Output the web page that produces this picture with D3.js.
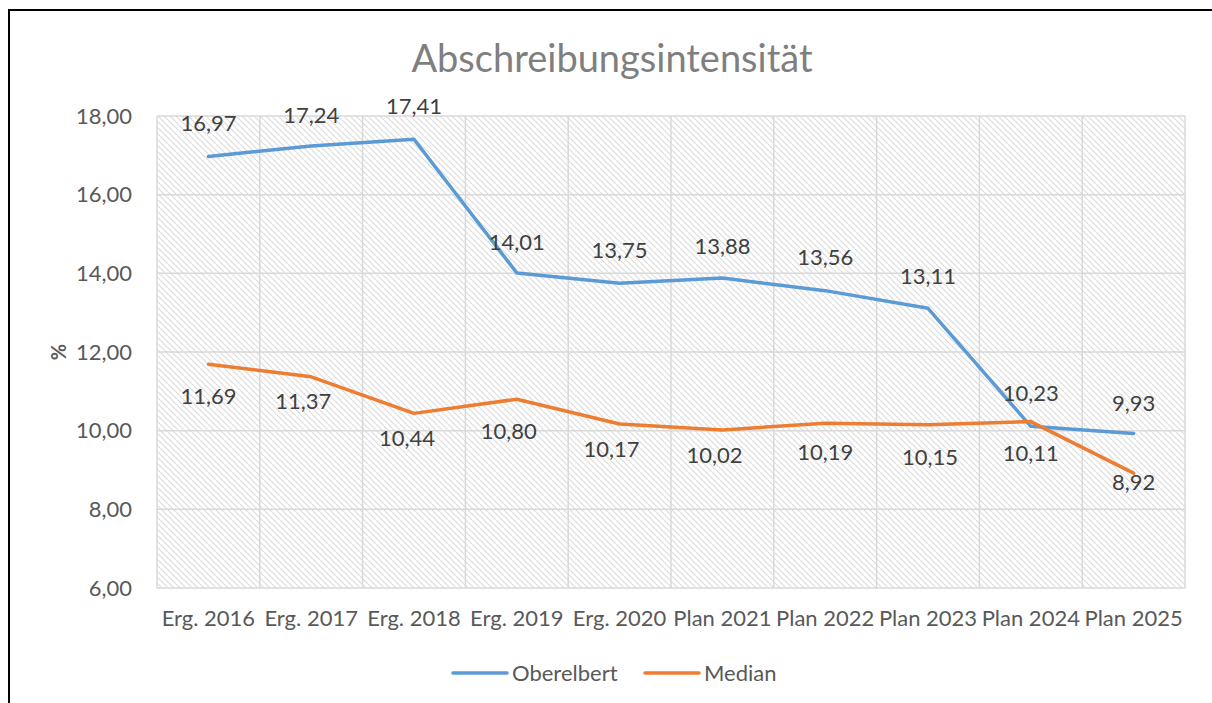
<!DOCTYPE html>
<html>
<head>
<meta charset="utf-8">
<script src="https://cdn.jsdelivr.net/npm/d3@7"></script>
<style>
  body { margin: 0; background: #fff; }
  text { font-family: Lato, "Open Sans", sans-serif; }
</style>
</head>
<body>
<svg id="chart" width="1212" height="703"></svg>
<script>
// data
var categories = ["Erg. 2016", "Erg. 2017", "Erg. 2018", "Erg. 2019", "Erg. 2020",
                  "Plan 2021", "Plan 2022", "Plan 2023", "Plan 2024", "Plan 2025"];
var oberelbert = [16.97, 17.24, 17.41, 14.01, 13.75, 13.88, 13.56, 13.11, 10.11, 9.93];
var median     = [11.69, 11.37, 10.44, 10.80, 10.17, 10.02, 10.19, 10.15, 10.23, 8.92];
var yTicks = [6, 8, 10, 12, 14, 16, 18];

// label offsets (px, label centre relative to point)
var blueDx   = [0, 0, 0, 0, 0, 0, 0, 0, 0, 0];
var blueDy   = [-33, -31, -33, -31, -33, -32, -33, -32, 27, -30];
var orangeDx = [0, -8, -7, -8, -8, -8, 0, 2, 0, 0];
var orangeDy = [32, 25, 25, 32, 25, 25, 29, 33, -28, 9];

var svg = d3.select("#chart");
var plot = { left: 157, right: 1185, top: 116, bottom: 588 };

var x = d3.scaleBand().domain(categories).range([plot.left, plot.right]);
var y = d3.scaleLinear().domain([6, 18]).range([plot.bottom, plot.top]);
var fmt = function (v) { return d3.format(".2f")(v).replace(".", ","); };

// outer frame (only top and left visible)
svg.append("path")
    .attr("d", "M9,703 V10 H1212")
    .attr("fill", "none")
    .attr("stroke", "#000")
    .attr("stroke-width", 2);

// hatch pattern for plot area
var pat = svg.append("defs").append("pattern")
    .attr("id", "hatch")
    .attr("patternUnits", "userSpaceOnUse")
    .attr("width", 6).attr("height", 6);
pat.append("rect").attr("width", 6).attr("height", 6).attr("fill", "#fff");
pat.append("path")
    .attr("d", "M-1,-1 L7,7 M-4,2 L2,8 M4,-2 L8,2")
    .attr("stroke", "#dcdcdc")
    .attr("stroke-width", 1.1);

svg.append("rect")
    .attr("x", plot.left).attr("y", plot.top)
    .attr("width", plot.right - plot.left).attr("height", plot.bottom - plot.top)
    .attr("fill", "url(#hatch)");

// gridlines
svg.append("g").selectAll("line")
    .data(yTicks)
    .enter().append("line")
    .attr("x1", plot.left).attr("x2", plot.right)
    .attr("y1", function (d) { return y(d); })
    .attr("y2", function (d) { return y(d); })
    .attr("stroke", "#d9d9d9").attr("stroke-width", 1.5);

var vBounds = categories.map(function (c) { return x(c); }).concat([plot.right]);
svg.append("g").selectAll("line")
    .data(vBounds)
    .enter().append("line")
    .attr("x1", function (d) { return d; }).attr("x2", function (d) { return d; })
    .attr("y1", plot.top).attr("y2", plot.bottom)
    .attr("stroke", "#d9d9d9").attr("stroke-width", 1.5);

// axes
var yAxis = svg.append("g")
    .attr("transform", "translate(" + (plot.left - 22) + ",0)")
    .call(d3.axisLeft(y).tickValues(yTicks).tickFormat(fmt).tickSize(0));
yAxis.select(".domain").remove();
yAxis.selectAll("text")
    .attr("fill", "#595959")
    .style("font-size", "22px")
    .style("font-family", "Lato, 'Open Sans', sans-serif");

var xAxis = svg.append("g")
    .attr("transform", "translate(0," + (plot.bottom + 20) + ")")
    .call(d3.axisBottom(x).tickSize(0));
xAxis.select(".domain").remove();
xAxis.selectAll("text")
    .attr("fill", "#595959")
    .attr("dy", "0.71em")
    .attr("y", 2)
    .style("font-size", "22px")
    .style("font-family", "Lato, 'Open Sans', sans-serif");

// title
svg.append("text")
    .attr("x", 612).attr("y", 72)
    .attr("text-anchor", "middle")
    .attr("fill", "#7f7f7f")
    .style("font-size", "38px")
    .text("Abschreibungsintensität");

// y axis title
svg.append("text")
    .attr("transform", "translate(66,352) rotate(-90)")
    .attr("text-anchor", "middle")
    .attr("fill", "#595959")
    .style("font-size", "20px")
    .style("font-weight", "bold")
    .text("%");

// lines
var cx = function (i) { return x(categories[i]) + x.bandwidth() / 2; };
var line = d3.line()
    .x(function (d, i) { return cx(i); })
    .y(function (d) { return y(d); });

var series = [
    { name: "Oberelbert", values: oberelbert, color: "#5b9bd5", dx: blueDx, dy: blueDy },
    { name: "Median", values: median, color: "#ed7d31", dx: orangeDx, dy: orangeDy }
];

series.forEach(function (s) {
    svg.append("path")
        .datum(s.values)
        .attr("d", line)
        .attr("fill", "none")
        .attr("stroke", s.color)
        .attr("stroke-width", 3.5)
        .attr("stroke-linejoin", "round")
        .attr("stroke-linecap", "round");
});

series.forEach(function (s) {
    svg.append("g").selectAll("text")
        .data(s.values)
        .enter().append("text")
        .attr("x", function (d, i) { return cx(i) + s.dx[i]; })
        .attr("y", function (d, i) { return y(d) + s.dy[i]; })
        .attr("dy", "0.35em")
        .attr("text-anchor", "middle")
        .attr("fill", "#404040")
        .style("font-size", "22px")
        .text(fmt);
});

// legend
var legend = svg.append("g");
var legendX = [453, 645];
series.forEach(function (s, i) {
    legend.append("line")
        .attr("x1", legendX[i]).attr("x2", legendX[i] + 54)
        .attr("y1", 673).attr("y2", 673)
        .attr("stroke", s.color).attr("stroke-width", 3.5)
        .attr("stroke-linecap", "round");
    legend.append("text")
        .attr("x", legendX[i] + 59).attr("y", 673)
        .attr("dy", "0.35em")
        .attr("fill", "#595959")
        .style("font-size", "22px")
        .text(s.name);
});
</script>
</body>
</html>
